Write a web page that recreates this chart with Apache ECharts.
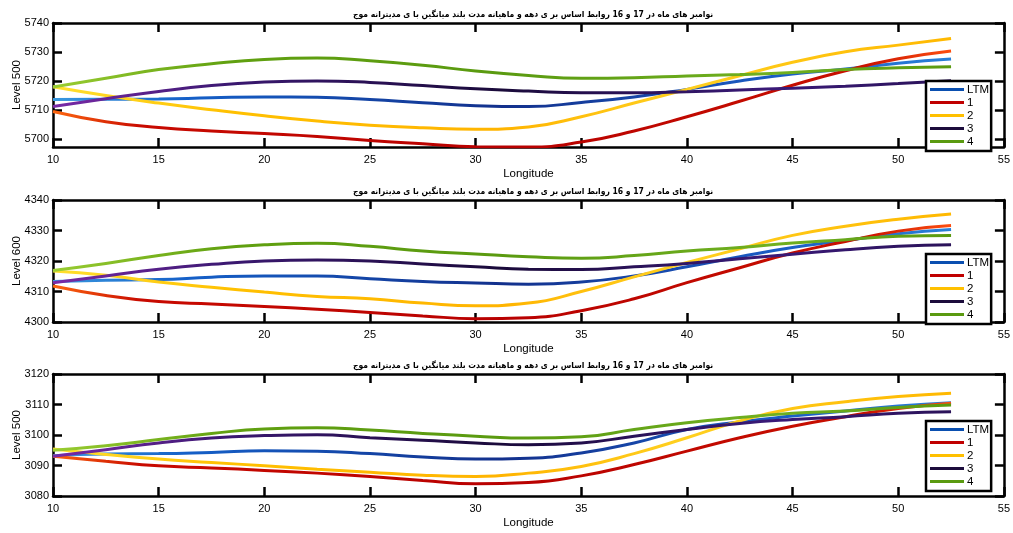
<!DOCTYPE html>
<html>
<head>
<meta charset="utf-8">
<script src="https://cdn.jsdelivr.net/npm/echarts@6/dist/echarts.min.js"></script>
<style>html,body{margin:0;padding:0;background:#fff}#c{width:1013px;height:533px}</style>
</head>
<body>
<div id="c"></div>
<script>
// ---- data ----
const lon = [10,12.5,15,17.5,20,22.5,25,27.5,30,32.5,35,37.5,40,42.5,45,47.5,50,52.5];
const seriesNames = ['LTM','1','2','3','4'];
const titleText = 'موج مدیترانه ی با میانگین بلند مدت ماهیانه و دهه ی بر اساس روابط 16 و 17 در ماه های نوامبر';
const xTicks = [10,15,20,25,30,35,40,45,50,55];
const yName1 = 'Level 500', yName2 = 'Level 600', yName3 = 'Level 500';
const yTicks1 = [5700,5710,5720,5730,5740];
const yTicks2 = [4300,4310,4320,4330,4340];
const yTicks3 = [3080,3090,3100,3110,3120];

const p1_LTM = [5713.7,5713.8,5713.9,5714.3,5714.6,5714.5,5713.7,5712.6,5711.6,5711.3,5712.7,5714.6,5717.2,5720.1,5722.5,5724.2,5726.2,5727.6];
const p1_1   = [5709.6,5706.1,5704.1,5702.9,5702.0,5701.0,5699.6,5698.5,5697.5,5697.4,5699.1,5702.9,5707.8,5713.1,5718.6,5723.6,5727.7,5730.4];
const p1_2   = [5718.1,5715.1,5712.5,5710.2,5708.1,5706.3,5704.9,5704.0,5703.5,5704.3,5707.8,5712.5,5717.2,5721.9,5726.5,5730.1,5732.4,5734.7];
const p1_3   = [5711.3,5714.0,5716.5,5718.5,5719.7,5720.1,5719.6,5718.5,5717.4,5716.6,5716.0,5716.0,5716.4,5717.0,5717.6,5718.3,5719.2,5720.2];
const p1_4   = [5718.0,5721.0,5724.0,5726.0,5727.5,5728.0,5727.0,5725.5,5723.5,5722.0,5721.0,5721.2,5721.8,5722.3,5723.0,5724.0,5724.6,5725.0];

const p2_LTM = [4313.3,4313.7,4313.9,4314.7,4315.1,4315.1,4314.2,4313.3,4312.8,4312.4,4313.1,4315.1,4318.1,4321.4,4324.4,4326.7,4328.9,4330.3];
const p2_1   = [4311.8,4308.7,4306.7,4305.9,4305.1,4304.2,4303.1,4302.0,4301.1,4301.4,4303.7,4307.6,4312.9,4317.8,4322.6,4326.4,4329.8,4331.6];
const p2_2   = [4316.7,4315.3,4313.1,4311.4,4309.8,4308.4,4307.6,4306.2,4305.3,4306.2,4310.0,4314.8,4319.5,4324.0,4328.4,4331.4,4333.7,4335.4];
const p2_3   = [4312.9,4315.1,4317.3,4318.9,4320.0,4320.3,4320.0,4319.0,4318.1,4317.3,4317.2,4318.1,4319.2,4320.7,4322.2,4323.7,4324.8,4325.3];
const p2_4   = [4316.9,4319.2,4321.8,4324.0,4325.3,4325.8,4324.8,4323.3,4322.3,4321.4,4320.9,4321.8,4323.3,4324.4,4325.9,4327.0,4328.1,4328.4];

const p3_LTM = [3093.2,3093.8,3093.9,3094.3,3094.8,3094.7,3093.9,3092.8,3092.1,3092.4,3094.1,3097.4,3101.8,3104.3,3106.2,3107.9,3109.5,3110.6];
const p3_1   = [3093.0,3091.4,3089.9,3089.2,3088.4,3087.5,3086.4,3085.1,3084.0,3084.4,3086.6,3090.3,3094.7,3099.1,3102.9,3106.0,3108.7,3110.4];
const p3_2   = [3095.4,3093.6,3092.1,3091.0,3089.9,3088.8,3087.8,3086.8,3086.4,3087.5,3089.7,3093.9,3099.1,3104.6,3108.7,3110.9,3112.6,3113.7];
const p3_3   = [3093.0,3095.2,3097.4,3099.0,3099.8,3100.1,3099.1,3098.3,3097.4,3096.8,3097.4,3099.6,3101.8,3103.8,3105.1,3106.0,3107.1,3107.6];
const p3_4   = [3095.0,3096.5,3098.5,3100.5,3102.0,3102.4,3101.6,3100.5,3099.6,3099.0,3099.4,3101.8,3104.0,3105.7,3107.1,3107.9,3109.0,3109.8];

// ---- styling ----
const solid = {'LTM':'#0a4fb0','1':'#c00000','2':'#ffc000','3':'#1c0c3c','4':'#5a9a10'};
function grad(stops){ return new echarts.graphic.LinearGradient(0,0,1,0, stops.map(c=>({offset:c[0],color:c[1]}))); }
const gradients = {
  'LTM': [[0,'#3a9ae0'],[0.15,'#1560c8'],[0.5,'#13308c'],[0.8,'#1a5cc4'],[1,'#2a80d8']],
  '1':   [[0,'#ff6a10'],[0.1,'#c80a00'],[0.5,'#b80000'],[0.9,'#c81000'],[1,'#ff5010']],
  '2':   [[0,'#ffe030'],[0.2,'#ffc000'],[0.5,'#ffb400'],[0.7,'#ffd020'],[1,'#ffb800']],
  '3':   [[0,'#7a2aa8'],[0.2,'#3a1870'],[0.5,'#1a0a3a'],[0.8,'#3a1a78'],[1,'#2a1258']],
  '4':   [[0,'#9acd32'],[0.2,'#60a010'],[0.5,'#5a9a10'],[0.8,'#70b020'],[1,'#5a9a10']]
};
const panels = [
  {data:[p1_LTM,p1_1,p1_2,p1_3,p1_4], top:23, height:124, min:5697.4, max:5740, ticks:yTicks1, name:yName1, legendTop:81},
  {data:[p2_LTM,p2_1,p2_2,p2_3,p2_4], top:200, height:122, min:4300, max:4340, ticks:yTicks2, name:yName2, legendTop:254},
  {data:[p3_LTM,p3_1,p3_2,p3_3,p3_4], top:374, height:122, min:3080, max:3120, ticks:yTicks3, name:yName3, legendTop:421}
];

const FONT = "'Liberation Sans', Arial, sans-serif";
const lineW = 2.5;
const tickLen = 9;
// the reference lays the words out left-to-right; left-to-right marks keep that visual order
const titleVisual = titleText.split(' ').join('\u200E \u200E');

const option = {
  animation:false,
  backgroundColor:'#fff',
  title:[], grid:[], xAxis:[], yAxis:[], series:[], legend:[]
};

panels.forEach((p, gi) => {
  option.title.push({
    text: titleVisual, left: 528, top: p.top - 18, textAlign:'center',
    textStyle:{fontSize:8.5, fontWeight:'bold', color:'#000', fontFamily:"'DejaVu Sans Condensed', 'DejaVu Sans', sans-serif"}
  });
  option.grid.push({left:53, right:9, top:p.top, height:p.height, show:false});
  const axLine = {show:true, lineStyle:{color:'#000', width:lineW}};
  const axTick = {show:true, inside:true, length:tickLen, lineStyle:{color:'#000', width:lineW}};
  option.xAxis.push({
    type:'value', gridIndex:gi, position:'bottom', min:10, max:55, interval:5,
    name:'Longitude', nameLocation:'middle', nameGap:21, nameMoveOverlap:false,
    nameTextStyle:{fontSize:11.5, color:'#000', fontFamily:FONT},
    axisLine:axLine, axisTick:axTick, splitLine:{show:false},
    axisLabel:{color:'#000', fontSize:11, fontFamily:FONT, margin:7, customValues:xTicks, formatter:v=>String(v)}
  });
  option.xAxis.push({
    type:'value', gridIndex:gi, position:'top', min:10, max:55, interval:5,
    axisLine:axLine, axisTick:axTick, splitLine:{show:false}, axisLabel:{show:false}
  });
  option.yAxis.push({
    type:'value', gridIndex:gi, position:'left', min:p.min, max:p.max,
    name:p.name, nameLocation:'middle', nameGap:30, nameRotate:90, nameMoveOverlap:false,
    nameTextStyle:{fontSize:11.5, color:'#000', fontFamily:FONT},
    axisLine:axLine, axisTick:Object.assign({}, axTick, {customValues:p.ticks}),
    splitLine:{show:false},
    axisLabel:{color:'#000', fontSize:11, fontFamily:FONT, margin:4, customValues:p.ticks, formatter:v=>String(v)}
  });
  option.yAxis.push({
    type:'value', gridIndex:gi, position:'right', min:p.min, max:p.max,
    axisLine:axLine, axisTick:Object.assign({}, axTick, {customValues:p.ticks}),
    splitLine:{show:false}, axisLabel:{show:false}
  });
  seriesNames.forEach((nm, si) => {
    option.series.push({
      type:'line', name:nm, xAxisIndex:gi*2, yAxisIndex:gi*2,
      data: lon.map((x,i)=>[x, p.data[si][i]]),
      smooth:true, showSymbol:false, symbol:'none',
      itemStyle:{color:solid[nm]},
      lineStyle:{width:3, color:grad(gradients[nm])},
      z: 2 + si
    });
  });
  option.legend.push({
    orient:'vertical', left:926, top:p.legendTop, icon:'rect',
    itemWidth:34, itemHeight:3, itemGap:0,
    padding:[2,2,3,4], borderColor:'#000', borderWidth:2.5, backgroundColor:'#fff',
    textStyle:{fontSize:11.5, lineHeight:13, color:'#000', fontFamily:FONT, padding:[0,0,0,-2]},
    data: seriesNames, z: 10
  });
});

const chart = echarts.init(document.getElementById('c'), null, {renderer:'canvas'});
chart.setOption(option);
</script>
</body>
</html>
